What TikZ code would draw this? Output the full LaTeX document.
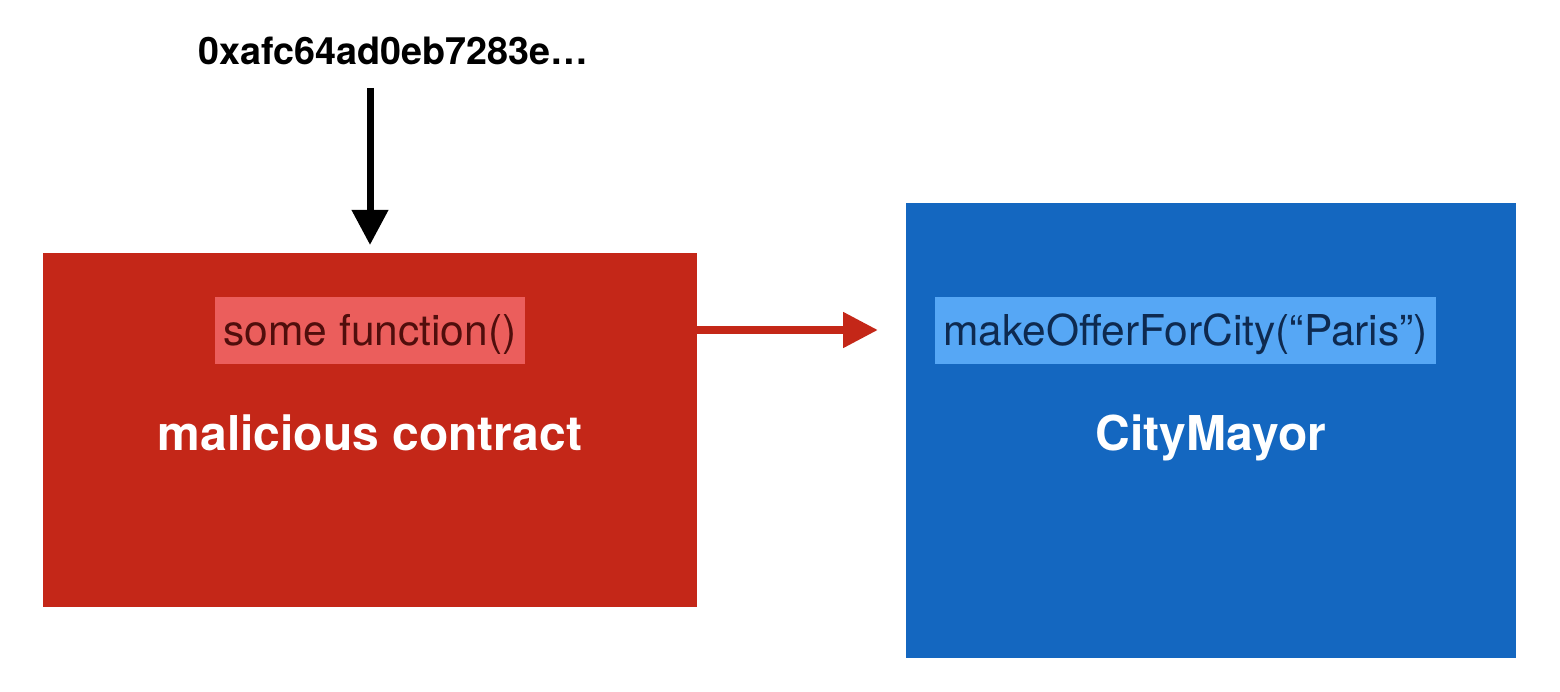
\documentclass[tikz,border=0pt]{standalone}
\usepackage{fontspec}
\setmainfont{TeX Gyre Heros}
\usetikzlibrary{arrows.meta}
\definecolor{malred}{RGB}{196,39,24}
\definecolor{labred}{RGB}{235,94,92}
\definecolor{txtred}{RGB}{80,14,12}
\definecolor{cityblue}{RGB}{20,103,192}
\definecolor{labblue}{RGB}{86,167,245}
\definecolor{txtblue}{RGB}{14,42,80}
\tikzset{
  bigbox/.style={inner sep=0pt, outer sep=0pt},
  labbox/.style={inner sep=0pt, outer sep=0pt, minimum height=67bp},
  labtext/.style={inner sep=0pt, anchor=base, font=\fontsize{42.5bp}{46bp}\selectfont},
  title/.style={text=white, inner sep=0pt, anchor=base, font=\fontsize{48bp}{52bp}\selectfont\bfseries},
  addrtext/.style={inner sep=0pt, anchor=base, font=\fontsize{37.7bp}{42bp}\selectfont\bfseries},
  blackarrow/.style={draw=black, line width=7bp, -{Triangle[length=35bp,width=35bp]}},
  redarrow/.style={draw=malred, line width=8bp, -{Triangle[length=35bp,width=34bp]}}
}
\begin{document}
\begin{tikzpicture}[x=1bp,y=-1bp]
\useasboundingbox (0,0) rectangle (1560,692);
\node[bigbox, fill=malred, minimum width=654bp, minimum height=354bp] (mal) at (370,430) {};
\node[bigbox, fill=cityblue, minimum width=610bp, minimum height=455bp] (city) at (1211,430.5) {};
\node[labbox, fill=labred, minimum width=310bp] (fn) at (370,330) {};
\node[labbox, fill=labblue, minimum width=501bp] (offer) at (1185.5,330) {};
\node[labtext, text=txtred] (fntext) at (370,345) {some function()};
\node[labtext, text=txtblue] (offertext) at (1185.5,345) {makeOfferForCity(“Paris”)};
\node[title] (maltitle) at (370,450) {malicious contract};
\node[title] (citytitle) at (1211,450) {CityMayor};
\node[addrtext] (addr) at (393.5,65) {0xafc64ad0eb7283e…};
\coordinate (atop) at (370,88);
\draw[blackarrow, shorten >=8bp] (atop) -- (mal.north);
\draw[redarrow, shorten >=28bp] (mal.east |- fn.center) -- (city.west |- fn.center);
\end{tikzpicture}
\end{document}
